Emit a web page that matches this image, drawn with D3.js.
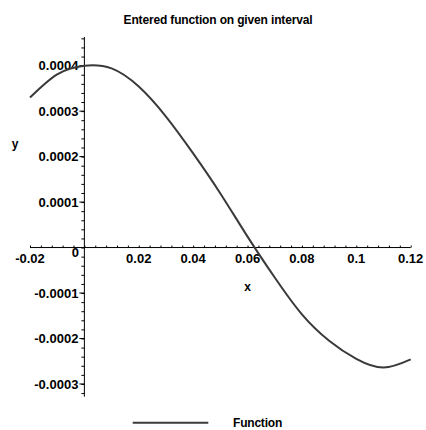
<!DOCTYPE html>
<html>
<head>
<meta charset="utf-8">
<script src="https://cdn.jsdelivr.net/npm/d3@7"></script>
<style>
  body { margin: 0; background: #fff; }
  text { font-family: "Liberation Sans", Arial, sans-serif; font-weight: bold; fill: #000; }
</style>
</head>
<body>
<div id="chart"></div>
<script>
// values
var xs = [-0.02, -0.01, 0, 0.01, 0.02, 0.03, 0.04, 0.05, 0.06, 0.07, 0.08, 0.09, 0.10, 0.11, 0.12];
var ys = [0.00033, 0.000381, 0.0004, 0.000394, 0.000354, 0.000288, 0.000207, 0.000119, 0.000024,
          -0.000066, -0.000147, -0.000205, -0.000245, -0.000264, -0.000246];
var xTickLabels = ["-0.02", "0.02", "0.04", "0.06", "0.08", "0.1", "0.12"];
var yTickLabels = ["0.0004", "0.0003", "0.0002", "0.0001", "-0.0001", "-0.0002", "-0.0003"];

var data = xs.map(function(x, i) { return {x: x, y: ys[i]}; });

var W = 426, H = 430;
var margin = {top: 37, right: 15.3, bottom: 33.3, left: 30};

var svg = d3.select("#chart").append("svg")
    .attr("width", W)
    .attr("height", H);

var xScale = d3.scaleLinear()
    .domain([-0.02, 0.12])
    .range([margin.left, W - margin.right]);

var yScale = d3.scaleLinear()
    .domain([-0.000328, 0.000463])
    .range([H - margin.bottom, margin.top]);

// title
svg.append("text")
    .attr("x", 218)
    .attr("y", 24)
    .attr("text-anchor", "middle")
    .style("font-size", "12px")
    .style("letter-spacing", "-0.15px")
    .text("Entered function on given interval");

// x axis (minor ticks on top of the line)
var xMinor = d3.range(-0.02, 0.12001, 0.004);
var xAxis = svg.append("g")
    .attr("class", "x axis")
    .attr("transform", "translate(0," + yScale(0) + ")")
    .call(d3.axisTop(xScale).tickValues(xMinor).tickSize(2).tickFormat(""));
xAxis.select(".domain").attr("d", "M" + xScale(-0.02) + ",0H" + xScale(0.12));

xAxis.selectAll(".xlab")
    .data(xTickLabels)
    .enter().append("text")
    .attr("class", "xlab")
    .attr("x", function(d) { return xScale(+d); })
    .attr("y", 15)
    .attr("text-anchor", "middle")
    .style("font-size", "13px")
    .text(function(d) { return d; });

// y axis (ticks to the left)
var yMinor = d3.range(-0.00032, 0.000461, 0.00002);
var yAxis = svg.append("g")
    .attr("class", "y axis")
    .attr("transform", "translate(" + xScale(0) + ",0)")
    .call(d3.axisLeft(yScale).tickValues(yMinor).tickSize(3).tickFormat(""));
yAxis.select(".domain").attr("d", "M0," + yScale(0.000463) + "V" + yScale(-0.000328));

yAxis.selectAll(".ymaj")
    .data(yTickLabels)
    .enter().append("line")
    .attr("class", "ymaj")
    .attr("x1", -5).attr("x2", 0)
    .attr("y1", function(d) { return yScale(+d); })
    .attr("y2", function(d) { return yScale(+d); })
    .attr("stroke", "#000");

yAxis.selectAll(".ylab")
    .data(yTickLabels)
    .enter().append("text")
    .attr("class", "ylab")
    .attr("x", -6)
    .attr("y", function(d) { return yScale(+d); })
    .attr("dy", "0.35em")
    .attr("text-anchor", "end")
    .style("font-size", "13px")
    .text(function(d) { return d; });

// origin label
svg.append("text")
    .attr("x", xScale(0) - 9)
    .attr("y", yScale(0) + 9.5)
    .attr("text-anchor", "middle")
    .style("font-size", "13px")
    .text("0");

// axis titles
svg.append("text")
    .attr("x", 15)
    .attr("y", 148)
    .attr("text-anchor", "middle")
    .style("font-size", "12px")
    .text("y");

svg.append("text")
    .attr("x", 247.5)
    .attr("y", 291)
    .attr("text-anchor", "middle")
    .style("font-size", "12px")
    .text("x");

// the function
var line = d3.line()
    .x(function(d) { return xScale(d.x); })
    .y(function(d) { return yScale(d.y); })
    .curve(d3.curveNatural);

svg.append("path")
    .datum(data)
    .attr("class", "line")
    .attr("d", line)
    .attr("fill", "none")
    .attr("stroke", "#3a3a3a")
    .attr("stroke-width", 2);

// legend
svg.append("line")
    .attr("x1", 132.7).attr("x2", 208.3)
    .attr("y1", 422.7).attr("y2", 422.7)
    .attr("stroke", "#3a3a3a")
    .attr("stroke-width", 2);

svg.append("text")
    .attr("x", 233)
    .attr("y", 427)
    .style("font-size", "12px")
    .style("letter-spacing", "-0.2px")
    .text("Function");
</script>
</body>
</html>
